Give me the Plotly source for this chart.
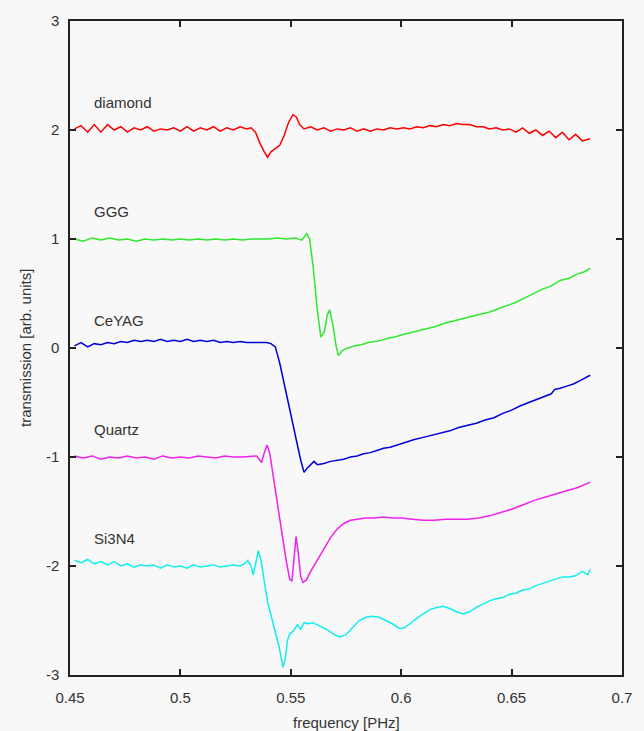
import plotly.graph_objects as go

# ---------------- data ----------------
diamond_f = [0.452,0.455,0.458,0.461,0.464,0.467,0.470,0.473,0.476,0.479,0.482,0.485,0.488,0.491,0.494,0.497,
             0.500,0.503,0.506,0.509,0.512,0.515,0.518,0.521,0.524,0.527,0.530,0.532,0.534,0.536,0.538,0.5395,
             0.541,0.543,0.545,0.547,0.549,0.551,0.5525,0.554,0.556,0.559,0.562,0.565,0.568,0.571,0.574,0.577,
             0.580,0.583,0.586,0.589,0.592,0.595,0.598,0.601,0.604,0.607,0.610,0.613,0.616,0.619,0.622,0.625,
             0.628,0.631,0.634,0.637,0.640,0.643,0.646,0.649,0.652,0.655,0.658,0.661,0.664,0.667,0.670,0.673,
             0.676,0.679,0.682,0.6856]
diamond_t = [2.01,2.04,1.98,2.05,1.98,2.05,2.00,2.03,1.98,2.02,2.00,2.03,1.99,2.01,2.00,2.02,
             1.99,2.03,1.99,2.02,2.00,2.03,1.99,2.02,2.00,2.03,2.01,2.02,1.98,1.88,1.80,1.75,
             1.80,1.83,1.86,1.95,2.07,2.14,2.12,2.05,2.01,2.03,2.00,2.02,1.99,2.01,2.00,2.02,
             1.99,2.01,1.99,2.01,2.00,2.02,2.01,2.02,2.01,2.03,2.02,2.04,2.03,2.05,2.04,2.06,
             2.05,2.05,2.03,2.03,2.01,2.02,2.00,2.01,1.98,2.02,1.97,2.00,1.95,1.99,1.93,1.98,
             1.91,1.96,1.90,1.92]

ggg_f = [0.452,0.456,0.460,0.464,0.468,0.472,0.476,0.480,0.484,0.488,0.492,0.496,0.500,0.504,0.508,0.512,
         0.516,0.520,0.524,0.528,0.532,0.536,0.540,0.544,0.548,0.552,0.555,0.5572,0.5585,0.560,0.562,0.5636,
         0.5652,0.5665,0.5676,0.569,0.5705,0.5716,0.573,0.5745,0.576,0.579,0.582,0.585,0.588,0.591,0.594,0.597,
         0.600,0.604,0.608,0.612,0.616,0.620,0.624,0.628,0.632,0.636,0.640,0.644,0.648,0.652,0.656,0.660,
         0.664,0.668,0.672,0.676,0.680,0.683,0.6856]
ggg_t = [1.00,0.98,1.01,0.99,1.01,0.99,1.00,0.98,1.00,0.99,1.00,0.99,1.00,0.99,1.00,0.99,
         1.00,0.99,1.00,0.99,1.00,1.00,1.00,1.01,1.00,1.01,0.99,1.05,1.00,0.77,0.35,0.10,
         0.15,0.30,0.35,0.22,0.02,-0.07,-0.03,-0.01,0.00,0.02,0.03,0.05,0.06,0.07,0.09,0.10,
         0.12,0.14,0.16,0.18,0.20,0.23,0.25,0.27,0.29,0.31,0.33,0.36,0.39,0.42,0.46,0.50,
         0.54,0.57,0.62,0.64,0.68,0.70,0.73]

ceyag_f = [0.452,0.455,0.458,0.461,0.464,0.467,0.470,0.473,0.476,0.479,0.482,0.485,0.488,0.491,0.494,0.497,
           0.500,0.503,0.506,0.509,0.512,0.515,0.518,0.521,0.524,0.527,0.530,0.533,0.536,0.539,0.541,0.543,
           0.545,0.547,0.549,0.551,0.553,0.5545,0.556,0.5575,0.559,0.5605,0.562,0.565,0.568,0.571,0.574,0.577,
           0.580,0.583,0.586,0.589,0.592,0.595,0.598,0.602,0.606,0.610,0.614,0.618,0.622,0.626,0.630,0.634,
           0.638,0.642,0.646,0.650,0.654,0.658,0.662,0.666,0.668,0.6695,0.672,0.675,0.678,0.681,0.684,0.6856]
ceyag_t = [0.02,0.05,0.01,0.04,0.03,0.05,0.04,0.06,0.05,0.07,0.06,0.07,0.06,0.08,0.06,0.07,
           0.06,0.08,0.06,0.07,0.06,0.07,0.05,0.06,0.05,0.06,0.05,0.05,0.05,0.05,0.04,0.01,
           -0.14,-0.32,-0.51,-0.70,-0.89,-1.03,-1.14,-1.10,-1.07,-1.04,-1.07,-1.06,-1.04,-1.03,-1.02,-1.00,
           -0.99,-0.97,-0.96,-0.94,-0.92,-0.91,-0.89,-0.87,-0.84,-0.82,-0.80,-0.78,-0.76,-0.73,-0.71,-0.69,
           -0.66,-0.64,-0.60,-0.57,-0.53,-0.50,-0.47,-0.44,-0.42,-0.38,-0.37,-0.35,-0.33,-0.30,-0.27,-0.25]

quartz_f = [0.452,0.456,0.460,0.464,0.468,0.472,0.476,0.480,0.484,0.488,0.492,0.496,0.500,0.504,0.508,0.512,
            0.516,0.520,0.524,0.528,0.532,0.5345,0.536,0.5368,0.538,0.5393,0.5405,0.542,0.544,0.546,0.548,0.5495,
            0.5505,0.5515,0.5524,0.5535,0.5545,0.5555,0.557,0.559,0.562,0.565,0.568,0.571,0.574,0.577,0.580,0.584,
            0.588,0.592,0.596,0.600,0.605,0.610,0.615,0.620,0.625,0.630,0.635,0.640,0.645,0.650,0.655,0.660,
            0.665,0.670,0.675,0.680,0.6856]
quartz_t = [-0.99,-1.01,-0.99,-1.02,-1.00,-1.01,-0.99,-1.01,-1.00,-1.02,-0.99,-1.01,-1.00,-1.01,-0.99,-1.00,
            -1.01,-0.99,-1.00,-1.00,-0.99,-0.99,-1.03,-1.05,-0.96,-0.89,-0.97,-1.18,-1.44,-1.70,-1.96,-2.12,
            -2.14,-1.95,-1.73,-1.90,-2.10,-2.15,-2.13,-2.05,-1.95,-1.84,-1.74,-1.66,-1.61,-1.58,-1.57,-1.56,
            -1.56,-1.55,-1.56,-1.56,-1.57,-1.58,-1.58,-1.57,-1.57,-1.57,-1.56,-1.54,-1.51,-1.48,-1.44,-1.40,
            -1.37,-1.34,-1.31,-1.28,-1.23]

si3n4_f = [0.452,0.455,0.458,0.461,0.464,0.467,0.470,0.473,0.476,0.479,0.482,0.485,0.488,0.491,0.494,0.497,
           0.500,0.503,0.506,0.509,0.512,0.515,0.518,0.521,0.524,0.527,0.529,0.5305,0.532,0.533,0.534,0.5353,
           0.5365,0.538,0.5395,0.541,0.543,0.5448,0.5465,0.5475,0.5485,0.5496,0.551,0.552,0.553,0.5545,0.556,0.558,
           0.560,0.563,0.566,0.569,0.572,0.575,0.578,0.581,0.584,0.587,0.590,0.593,0.596,0.599,0.601,0.604,
           0.607,0.610,0.613,0.616,0.619,0.622,0.625,0.628,0.631,0.634,0.637,0.640,0.643,0.646,0.649,0.652,
           0.655,0.658,0.661,0.664,0.667,0.670,0.673,0.676,0.679,0.682,0.6845,0.6856]
si3n4_t = [-1.95,-1.97,-1.94,-1.98,-1.96,-1.99,-1.96,-2.00,-1.98,-2.01,-1.99,-2.00,-1.99,-2.02,-1.99,-2.01,
           -2.00,-2.02,-1.99,-2.01,-2.00,-1.99,-2.01,-2.00,-1.99,-2.00,-1.98,-1.95,-2.00,-2.08,-1.98,-1.86,
           -1.95,-2.15,-2.33,-2.45,-2.60,-2.75,-2.93,-2.85,-2.68,-2.62,-2.60,-2.57,-2.54,-2.58,-2.52,-2.53,
           -2.52,-2.55,-2.58,-2.62,-2.65,-2.63,-2.56,-2.50,-2.47,-2.46,-2.47,-2.50,-2.53,-2.57,-2.57,-2.53,
           -2.48,-2.44,-2.40,-2.38,-2.37,-2.39,-2.42,-2.44,-2.42,-2.38,-2.35,-2.32,-2.30,-2.29,-2.26,-2.25,
           -2.22,-2.21,-2.18,-2.16,-2.14,-2.12,-2.10,-2.10,-2.09,-2.05,-2.08,-2.03]

series_names = ["diamond", "GGG", "CeYAG", "Quartz", "Si3N4"]
series_freq = [diamond_f, ggg_f, ceyag_f, quartz_f, si3n4_f]
series_trans = [diamond_t, ggg_t, ceyag_t, quartz_t, si3n4_t]
series_offset = [2, 1, 0, -1, -2]
series_colors = ["#ff0000", "#2ee82e", "#0000dd", "#ee22ee", "#11eeee"]

x_ticks = [0.45, 0.5, 0.55, 0.6, 0.65, 0.7]
x_ticktext = ["0.45", "0.5", "0.55", "0.6", "0.65", "0.7"]
y_ticks = [-3, -2, -1, 0, 1, 2, 3]
y_ticktext = ["-3", "-2", "-1", "0", "1", "2", "3"]

# ---------------- figure ----------------
FONT = "Liberation Sans, Arial, sans-serif"
fig = go.Figure()
for name, f, t, c in zip(series_names, series_freq, series_trans, series_colors):
    fig.add_trace(go.Scatter(x=f, y=t, mode="lines", name=name,
                             line=dict(color=c, width=1.5), showlegend=False))

for name, off in zip(series_names, series_offset):
    fig.add_annotation(x=0.4598, y=off + 0.25, text=name, showarrow=False,
                       xanchor="left", yanchor="middle",
                       font=dict(family=FONT, size=15, color="#333333"))

fig.add_annotation(xref="paper", yref="paper", x=0.5, y=0, yshift=-37,
                   text="frequency [PHz]", showarrow=False, xanchor="center", yanchor="top",
                   font=dict(family=FONT, size=15, color="#333333"))
fig.add_annotation(xref="paper", yref="paper", x=0, y=0.5, xshift=-45,
                   text="transmission [arb. units]", showarrow=False, textangle=-90,
                   xanchor="center", yanchor="middle",
                   font=dict(family=FONT, size=15, color="#333333"))

axis_common = dict(showline=True, linecolor="#222222", linewidth=1.5, mirror="ticks",
                   ticks="inside", ticklen=6, tickwidth=1.5, tickcolor="#222222",
                   showgrid=False, zeroline=False,
                   tickfont=dict(family=FONT, size=15, color="#333333"))
fig.update_xaxes(range=[0.45, 0.7], tickvals=x_ticks, ticktext=x_ticktext,
                 ticklabelstandoff=8, **axis_common)
fig.update_yaxes(range=[-3, 3], tickvals=y_ticks, ticktext=y_ticktext,
                 ticklabelstandoff=6, **axis_common)

fig.update_layout(width=644, height=731, autosize=False,
                  margin=dict(l=70, r=17, t=15, b=56),
                  paper_bgcolor="#f8f8f8", plot_bgcolor="#f8f8f8")

fig.write_html("out.html", config={"displayModeBar": False},
               post_script="document.body.style.margin='0';document.body.style.overflow='hidden';"
                           "document.body.style.background='#f8f8f8';")
